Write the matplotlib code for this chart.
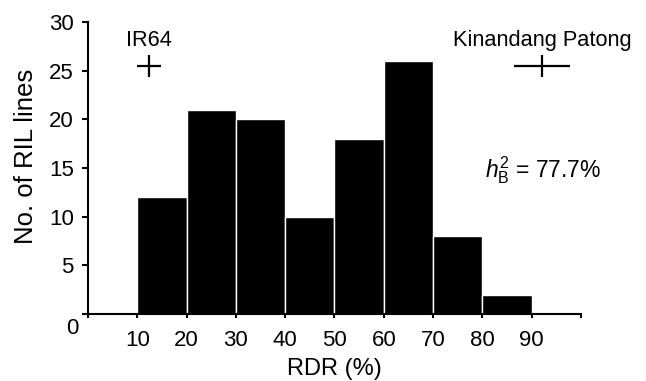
import matplotlib
matplotlib.use("Agg")
import matplotlib.pyplot as plt

plt.rcParams['font.family'] = ['Liberation Sans', 'DejaVu Sans']
plt.rcParams['mathtext.fontset'] = 'custom'
plt.rcParams['mathtext.rm'] = 'Liberation Sans'
plt.rcParams['mathtext.it'] = 'Liberation Sans:italic'

# Data
bin_left = [10, 20, 30, 40, 50, 60, 70, 80]
counts = [12, 21, 20, 10, 18, 26, 8, 2]
xtick_vals = [0, 10, 20, 30, 40, 50, 60, 70, 80, 90, 100]
xtick_labels = ["", "10", "20", "30", "40", "50", "60", "70", "80", "90", ""]
ytick_vals = [0, 5, 10, 15, 20, 25, 30]
ytick_labels = ["", "5", "10", "15", "20", "25", "30"]
parents = ["IR64", "Kinandang Patong"]
parent_mean = [12.4, 92.1]
parent_sd = [2.5, 5.7]
parent_y = [25.5, 25.5]
heritability = "77.7%"

fig = plt.figure(figsize=(6.46, 3.81), dpi=100)
ax = fig.add_axes([0.1362, 0.1759, 0.7632, 0.7664])

ax.bar(bin_left, counts, width=10, align='edge', color='black',
       edgecolor='white', linewidth=1.0)

for name, m, s, yv in zip(parents, parent_mean, parent_sd, parent_y):
    ax.errorbar(m, yv, xerr=s, fmt='|', color='black', markersize=16,
                markeredgewidth=1.6, elinewidth=1.6, capsize=0)
    ax.text(m, 27.5, name, ha='center', va='baseline', fontsize=15.7)

ax.text(92.4, 14.0, r"$h_{\mathrm{B}}^{2}$ = " + heritability,
        ha='center', va='baseline', fontsize=16.5)

ax.set_xlim(0, 100)
ax.set_ylim(0, 30)
ax.set_xticks(xtick_vals)
ax.set_xticklabels(xtick_labels)
ax.set_yticks(ytick_vals)
ax.set_yticklabels(ytick_labels)
ax.text(-3.1, -1.5, "0", ha='center', va='center', fontsize=16, clip_on=False)

for side in ['top', 'right']:
    ax.spines[side].set_visible(False)
for side in ['left', 'bottom']:
    ax.spines[side].set_linewidth(1.5)
ax.tick_params(axis='x', direction='out', length=3, width=1.5, pad=8.5, labelsize=16)
ax.tick_params(axis='y', direction='out', length=4.3, width=1.5, pad=6, labelsize=16)

fig.text(25.7/646, 1 - 156/381, "No. of RIL lines", rotation=90,
         ha='center', va='center', fontsize=18.5)
fig.text(334.5/646, 1 - 369/381, "RDR (%)", ha='center', va='center', fontsize=17)

fig.savefig("out.png", dpi=100)
